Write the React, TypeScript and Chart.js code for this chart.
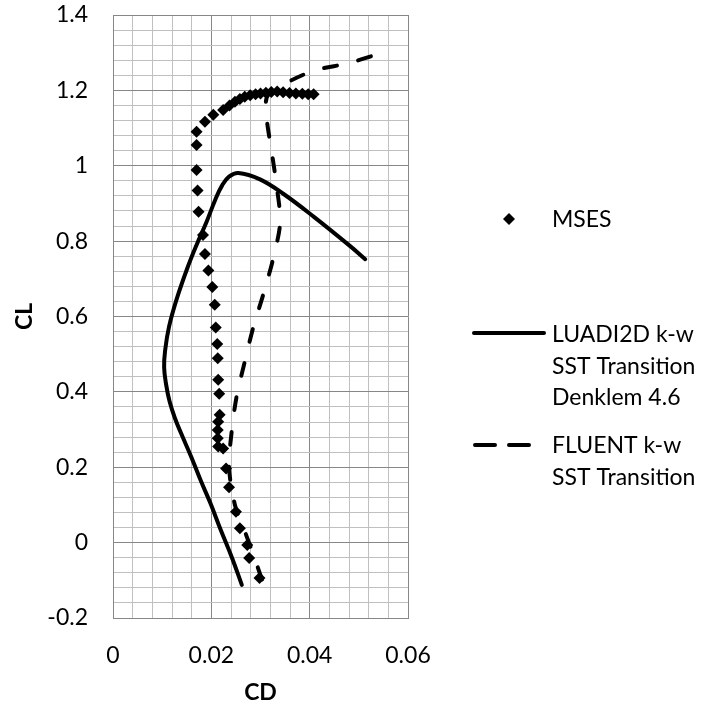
import { useEffect, useRef } from 'react';
import { Chart, registerables } from 'chart.js';

Chart.register(...registerables);

// ---- Data ----
const msesCD = [
  0.0298, 0.0277, 0.0273, 0.0258, 0.0250, 0.0236, 0.0230, 0.0224, 0.0214, 0.0213,
  0.0213, 0.0214, 0.0217, 0.0216, 0.0214, 0.0213, 0.0212, 0.0209, 0.0207, 0.0202,
  0.0194, 0.0187, 0.0183, 0.0174, 0.0172, 0.0170, 0.0170, 0.0170, 0.0187, 0.0204,
  0.0224, 0.0237, 0.0248, 0.0258, 0.0268, 0.0279, 0.0290, 0.0300, 0.0311, 0.0322,
  0.0334, 0.0346, 0.0359, 0.0372, 0.0385, 0.0397, 0.0408,
];
const msesCL = [
  -0.094, -0.041, -0.006, 0.038, 0.082, 0.147, 0.197, 0.250, 0.255, 0.277,
  0.299, 0.321, 0.339, 0.395, 0.432, 0.489, 0.527, 0.571, 0.631, 0.678,
  0.722, 0.766, 0.816, 0.878, 0.934, 0.989, 1.055, 1.090, 1.117, 1.135,
  1.148, 1.160, 1.170, 1.177, 1.183, 1.187, 1.190, 1.192, 1.194, 1.196,
  1.197, 1.195, 1.193, 1.192, 1.191, 1.190, 1.190,
];

const luadiCD = [
  0.0262, 0.0241, 0.0219, 0.0198, 0.0178, 0.0159, 0.01385, 0.0126, 0.0115, 0.0108,
  0.0104, 0.0106, 0.0114, 0.0129, 0.0150, 0.0170, 0.0190, 0.0208, 0.0222, 0.0236,
  0.0255, 0.0299, 0.0347, 0.0408, 0.0483, 0.0513,
];
const luadiCL = [
  -0.112, -0.037, 0.034, 0.105, 0.166, 0.228, 0.290, 0.330, 0.375, 0.420,
  0.465, 0.510, 0.573, 0.644, 0.724, 0.790, 0.850, 0.910, 0.948, 0.971,
  0.981, 0.964, 0.925, 0.865, 0.786, 0.752,
];

const fluentCD = [
  0.0303, 0.0285, 0.0268, 0.0248, 0.0236, 0.0241, 0.0251, 0.0268, 0.0285, 0.0306,
  0.0326, 0.0340, 0.0333, 0.0323, 0.0313, 0.0311, 0.0318, 0.0345, 0.0408, 0.0478,
  0.0534,
];
const fluentCL = [
  -0.098, -0.030, 0.030, 0.100, 0.200, 0.290, 0.385, 0.480, 0.570, 0.660,
  0.755, 0.850, 0.945, 1.035, 1.120, 1.170, 1.192, 1.215, 1.252, 1.272,
  1.294,
];

const seriesNames = ['MSES', 'LUADI2D k-w SST Transition Denklem 4.6', 'FLUENT k-w SST Transition'];
const legendLines = [['MSES'], ['LUADI2D k-w', 'SST Transition', 'Denklem 4.6'], ['FLUENT k-w', 'SST Transition']];

const xMajorTicks = [0, 0.02, 0.04, 0.06];
const xTickLabels = ['0', '0.02', '0.04', '0.06'];
const yMajorTicks = [-0.2, 0, 0.2, 0.4, 0.6, 0.8, 1.0, 1.2, 1.4];
const yTickLabels = ['-0.2', '0', '0.2', '0.4', '0.6', '0.8', '1', '1.2', '1.4'];
const xTitle = 'CD';
const yTitle = 'CL';

// ---- Style ----
const FONT = 'Lato';
const FS = 23;
const MAJOR = '#878787';
const MINOR = '#c0c0c0';

const majorIndex = (v: number, majors: number[]) =>
  majors.findIndex((m) => Math.abs(m - v) < 1e-7);

const toPts = (xs: number[], ys: number[]) => xs.map((x, i) => ({ x, y: ys[i] }));

const legendPlugin = {
  id: 'customLegend',
  afterDraw(chart: any) {
    const ctx = chart.ctx as CanvasRenderingContext2D;
    ctx.save();
    ctx.fillStyle = '#000';
    ctx.strokeStyle = '#000';
    ctx.font = `${FS}px ${FONT}`;
    ctx.textBaseline = 'middle';
    ctx.textAlign = 'left';
    const textX = 552;
    const lh = 31.5;

    // MSES diamond
    const dx = 509, dy = 219, r = 6;
    ctx.beginPath();
    ctx.moveTo(dx, dy - r);
    ctx.lineTo(dx + r, dy);
    ctx.lineTo(dx, dy + r);
    ctx.lineTo(dx - r, dy);
    ctx.closePath();
    ctx.fill();
    legendLines[0].forEach((t, i) => ctx.fillText(t, textX, 220 + i * lh));

    // LUADI2D solid
    ctx.lineWidth = 4;
    ctx.lineCap = 'round';
    ctx.setLineDash([]);
    ctx.beginPath();
    ctx.moveTo(474, 333);
    ctx.lineTo(544, 333);
    ctx.stroke();
    legendLines[1].forEach((t, i) => ctx.fillText(t, textX, 335 + i * lh));

    // FLUENT dashed
    ctx.setLineDash([20, 14]);
    ctx.beginPath();
    ctx.moveTo(475, 445);
    ctx.lineTo(530, 445);
    ctx.stroke();
    ctx.setLineDash([]);
    legendLines[2].forEach((t, i) => ctx.fillText(t, textX, 446 + i * lh));
    ctx.restore();
  },
};

export default function App() {
  const ref = useRef<HTMLCanvasElement>(null);

  useEffect(() => {
    if (!ref.current) return;
    const chart = new Chart(ref.current, {
      type: 'scatter',
      data: {
        datasets: [
          {
            label: seriesNames[1],
            data: toPts(luadiCD, luadiCL),
            showLine: true,
            borderColor: '#000',
            backgroundColor: '#000',
            borderWidth: 4,
            borderCapStyle: 'round',
            borderJoinStyle: 'round',
            pointRadius: 0,
            tension: 0.4,
            order: 1,
          },
          {
            label: seriesNames[2],
            data: toPts(fluentCD, fluentCL),
            showLine: true,
            borderColor: '#000',
            backgroundColor: '#000',
            borderWidth: 4,
            borderCapStyle: 'round',
            borderDash: [13, 22],
            pointRadius: 0,
            tension: 0.3,
            order: 0,
          },
          {
            label: seriesNames[0],
            data: toPts(msesCD, msesCL),
            showLine: false,
            pointStyle: 'rectRot',
            pointRadius: 6,
            pointBorderWidth: 0,
            backgroundColor: '#000',
            borderColor: '#000',
            order: 2,
          },
        ],
      },
      options: {
        responsive: false,
        animation: false,
        devicePixelRatio: 1,
        layout: { padding: { top: 15, right: 298, left: 0, bottom: 0 } },
        plugins: { legend: { display: false }, tooltip: { enabled: false } },
        scales: {
          x: {
            type: 'linear',
            min: 0,
            max: 0.06,
            ticks: {
              stepSize: 0.004,
              autoSkip: false,
              maxRotation: 0,
              minRotation: 0,
              padding: 24,
              color: '#000',
              font: { family: FONT, size: FS },
              callback: (v: any) => {
                const i = majorIndex(Number(v), xMajorTicks);
                return i >= 0 ? xTickLabels[i] : '';
              },
            },
            grid: {
              drawTicks: false,
              lineWidth: 1,
              color: (c: any) => (majorIndex(c.tick.value, xMajorTicks) >= 0 ? MAJOR : MINOR),
            },
            border: { display: true, color: MAJOR, width: 1 },
            title: {
              display: true,
              text: xTitle,
              color: '#000',
              font: { family: FONT, size: FS, weight: 'bold' },
              padding: { top: 0, bottom: 3 },
            },
            afterFit: (s: any) => {
              s.height = 91;
              s.paddingLeft = 0;
              s.paddingRight = 0;
            },
          },
          y: {
            type: 'linear',
            min: -0.2,
            max: 1.4,
            ticks: {
              stepSize: 0.04,
              autoSkip: false,
              padding: 25,
              color: '#000',
              font: { family: FONT, size: FS },
              callback: (v: any) => {
                const i = majorIndex(Number(v), yMajorTicks);
                return i >= 0 ? yTickLabels[i] : '';
              },
            },
            grid: {
              drawTicks: false,
              lineWidth: 1,
              color: (c: any) => (majorIndex(c.tick.value, yMajorTicks) >= 0 ? MAJOR : MINOR),
            },
            border: { display: true, color: MAJOR, width: 1 },
            title: {
              display: true,
              text: yTitle,
              color: '#000',
              font: { family: FONT, size: FS, weight: 'bold' },
              padding: { top: 11, bottom: 0 },
            },
            afterFit: (s: any) => {
              s.width = 113;
              s.paddingTop = 0;
              s.paddingBottom = 0;
            },
          },
        },
      } as any,
      plugins: [legendPlugin],
    });
    return () => chart.destroy();
  }, []);

  return (
    <div style={{ position: 'fixed', left: 0, top: 0, width: 706, height: 709, background: '#fff' }}>
      <canvas ref={ref} width={706} height={709} />
    </div>
  );
}
